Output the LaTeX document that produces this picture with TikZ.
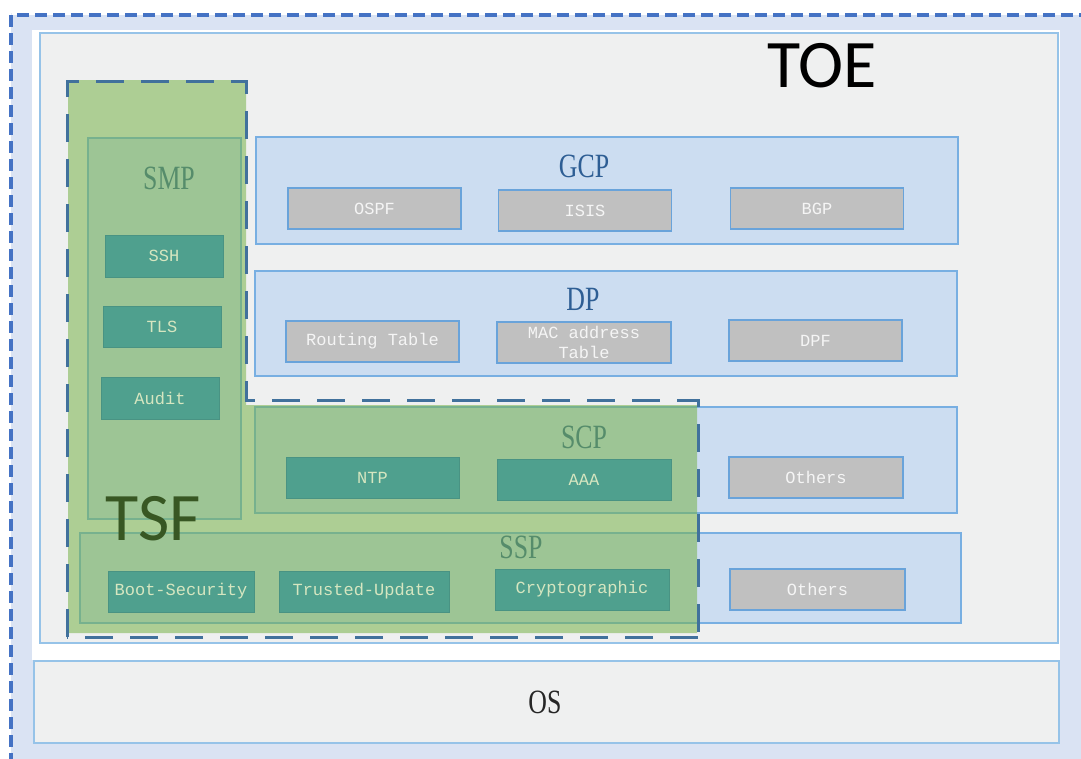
\documentclass[tikz,border=0pt]{standalone}
\usepackage{fontspec}
\setmainfont{Liberation Serif}
\newfontfamily\titlefont[FakeStretch=0.76]{Liberation Serif}
\newfontfamily\boxfont{Liberation Mono}
\newfontfamily\bigfont{Carlito}
\usetikzlibrary{positioning}
\definecolor{outerbg}{RGB}{218,227,243}
\definecolor{outerline}{RGB}{68,114,196}
\definecolor{toefill}{RGB}{239,240,240}
\definecolor{toeline}{RGB}{150,195,232}
\definecolor{layerfill}{RGB}{204,221,241}
\definecolor{layerline}{RGB}{120,175,226}
\definecolor{titleblue}{RGB}{46,94,148}
\definecolor{greyfill}{RGB}{192,192,192}
\definecolor{greyline}{RGB}{105,163,218}
\definecolor{tealfill}{RGB}{79,160,142}
\definecolor{tealtext}{RGB}{214,230,192}
\definecolor{tsfgreen}{RGB}{119,179,74}
\definecolor{tsfline}{RGB}{65,113,156}
\definecolor{tsftext}{RGB}{56,87,35}
\tikzstyle{frame} = [
  rectangle,
  inner sep=0pt,
  draw=toeline,
  fill=toefill,
  line width=1.5pt
]
\tikzstyle{layer} = [
  rectangle,
  inner sep=0pt,
  draw=layerline,
  fill=layerfill,
  line width=1.6pt
]
\tikzstyle{title} = [
  inner sep=0pt,
  text=titleblue,
  font=\titlefont\fontsize{34}{34}\selectfont
]
\tikzstyle{greybox} = [
  rectangle,
  inner sep=0pt,
  minimum width=173pt,
  minimum height=41pt,
  draw=greyline,
  fill=greyfill,
  line width=1.6pt,
  text=white!96!black,
  align=center,
  font=\boxfont\fontsize{17}{20}\selectfont
]
\tikzstyle{tealbox} = [
  rectangle,
  inner sep=0pt,
  minimum width=173pt,
  minimum height=41pt,
  draw=tealfill!92!black,
  line width=0.6pt,
  fill=tealfill,
  text=tealtext,
  font=\boxfont\fontsize{17}{20}\selectfont
]
\tikzstyle{biglabel} = [inner sep=0pt, font=\bigfont\fontsize{68}{68}\selectfont]

\begin{document}
\begin{tikzpicture}[x=1pt, y=-1pt]
    \useasboundingbox (0,0) rectangle (1081,758);
    \clip (0,0) rectangle (1081,758);
    \fill[white] (0,0) rectangle (1081,758);
    \fill[outerbg] (11,15) rectangle (1100,780);
    \draw[outerline, line width=3.5pt, dash pattern=on 12pt off 6pt] (11,15) rectangle (1100,780);
    \fill[white] (32,30) rectangle (1060,660);

    \node (toe-frame) [frame, minimum width=1018pt, minimum height=610pt] at (549,338) {};
    \node (os) [frame, minimum width=1025pt, minimum height=82pt] at (546.5,702) {};
    \node (os-title) [title, text=black!85] at (545,702) {OS};

    \node (gcp) [layer, minimum width=702pt, minimum height=107pt] at (607,190.5) {};
    \node (dp) [layer, minimum width=702pt, minimum height=105pt] at (606,323.5) {};
    \node (scp) [layer, minimum width=702pt, minimum height=106pt] at (606,460) {};
    \node (ssp) [layer, minimum width=881pt, minimum height=90pt] at (520.5,578) {};
    \node (smp) [layer, minimum width=153pt, minimum height=381pt] at (164.5,328.5) {};

    \node (gcp-title) [title] at (584,166) {GCP};
    \node (dp-title) [title] at (583,299) {DP};
    \node (scp-title) [title] at (584,437) {SCP};
    \node (ssp-title) [title] at (521,547) {SSP};
    \node (smp-title) [title] at (169,178) {SMP};

    \node (ospf) [greybox] at (374.5,208.5) {OSPF};
    \node (isis) [greybox] at (585,210.5) {ISIS};
    \node (bgp) [greybox] at (817,208.5) {BGP};
    \node (routing-table) [greybox] at (372.5,341.5) {Routing Table};
    \node (mac-table) [greybox, minimum width=174pt] at (584,342.5) {MAC address\\Table};
    \node (dpf) [greybox] at (815.5,340.5) {DPF};
    \node (scp-others) [greybox, minimum width=174pt] at (816,477.5) {Others};
    \node (ssp-others) [greybox, minimum width=175pt] at (817.5,589.5) {Others};

    % TSF area
    \fill[tsfgreen, opacity=0.55] (68,80) -- (246,80) -- (246,405) -- (697,405) -- (697,633) -- (68,633) -- cycle;

    \node (ssh) [tealbox, minimum width=118pt, minimum height=42pt] at (164,256) {SSH};
    \node (tls) [tealbox, minimum width=118pt, minimum height=41pt] at (162,326.5) {TLS};
    \node (audit) [tealbox, minimum width=118pt, minimum height=42pt] at (160,398) {Audit};
    \node (ntp) [tealbox] at (372.5,477.5) {NTP};
    \node (aaa) [tealbox, minimum width=174pt] at (584,479.5) {AAA};
    \node (boot-security) [tealbox, minimum width=146pt] at (181,591.5) {Boot-Security};
    \node (trusted-update) [tealbox, minimum width=170pt] at (364,591.5) {Trusted-Update};
    \node (cryptographic) [tealbox, minimum width=174pt] at (582,589.5) {Cryptographic};

    \draw[tsfline, line width=3pt, dash pattern=on 28pt off 17pt]
      (67,637) -- (67,81) -- (246,81) -- (246,400) -- (698,400) -- (698,643);
    \draw[tsfline, line width=3pt, dash pattern=on 28pt off 17pt] (698,637) -- (67,637);

    \node (toe-label) [biglabel] at (822,66) {TOE};
    \node (tsf-label) [biglabel, text=tsftext] at (153.5,518.5) {TSF};
  \end{tikzpicture}
\end{document}
